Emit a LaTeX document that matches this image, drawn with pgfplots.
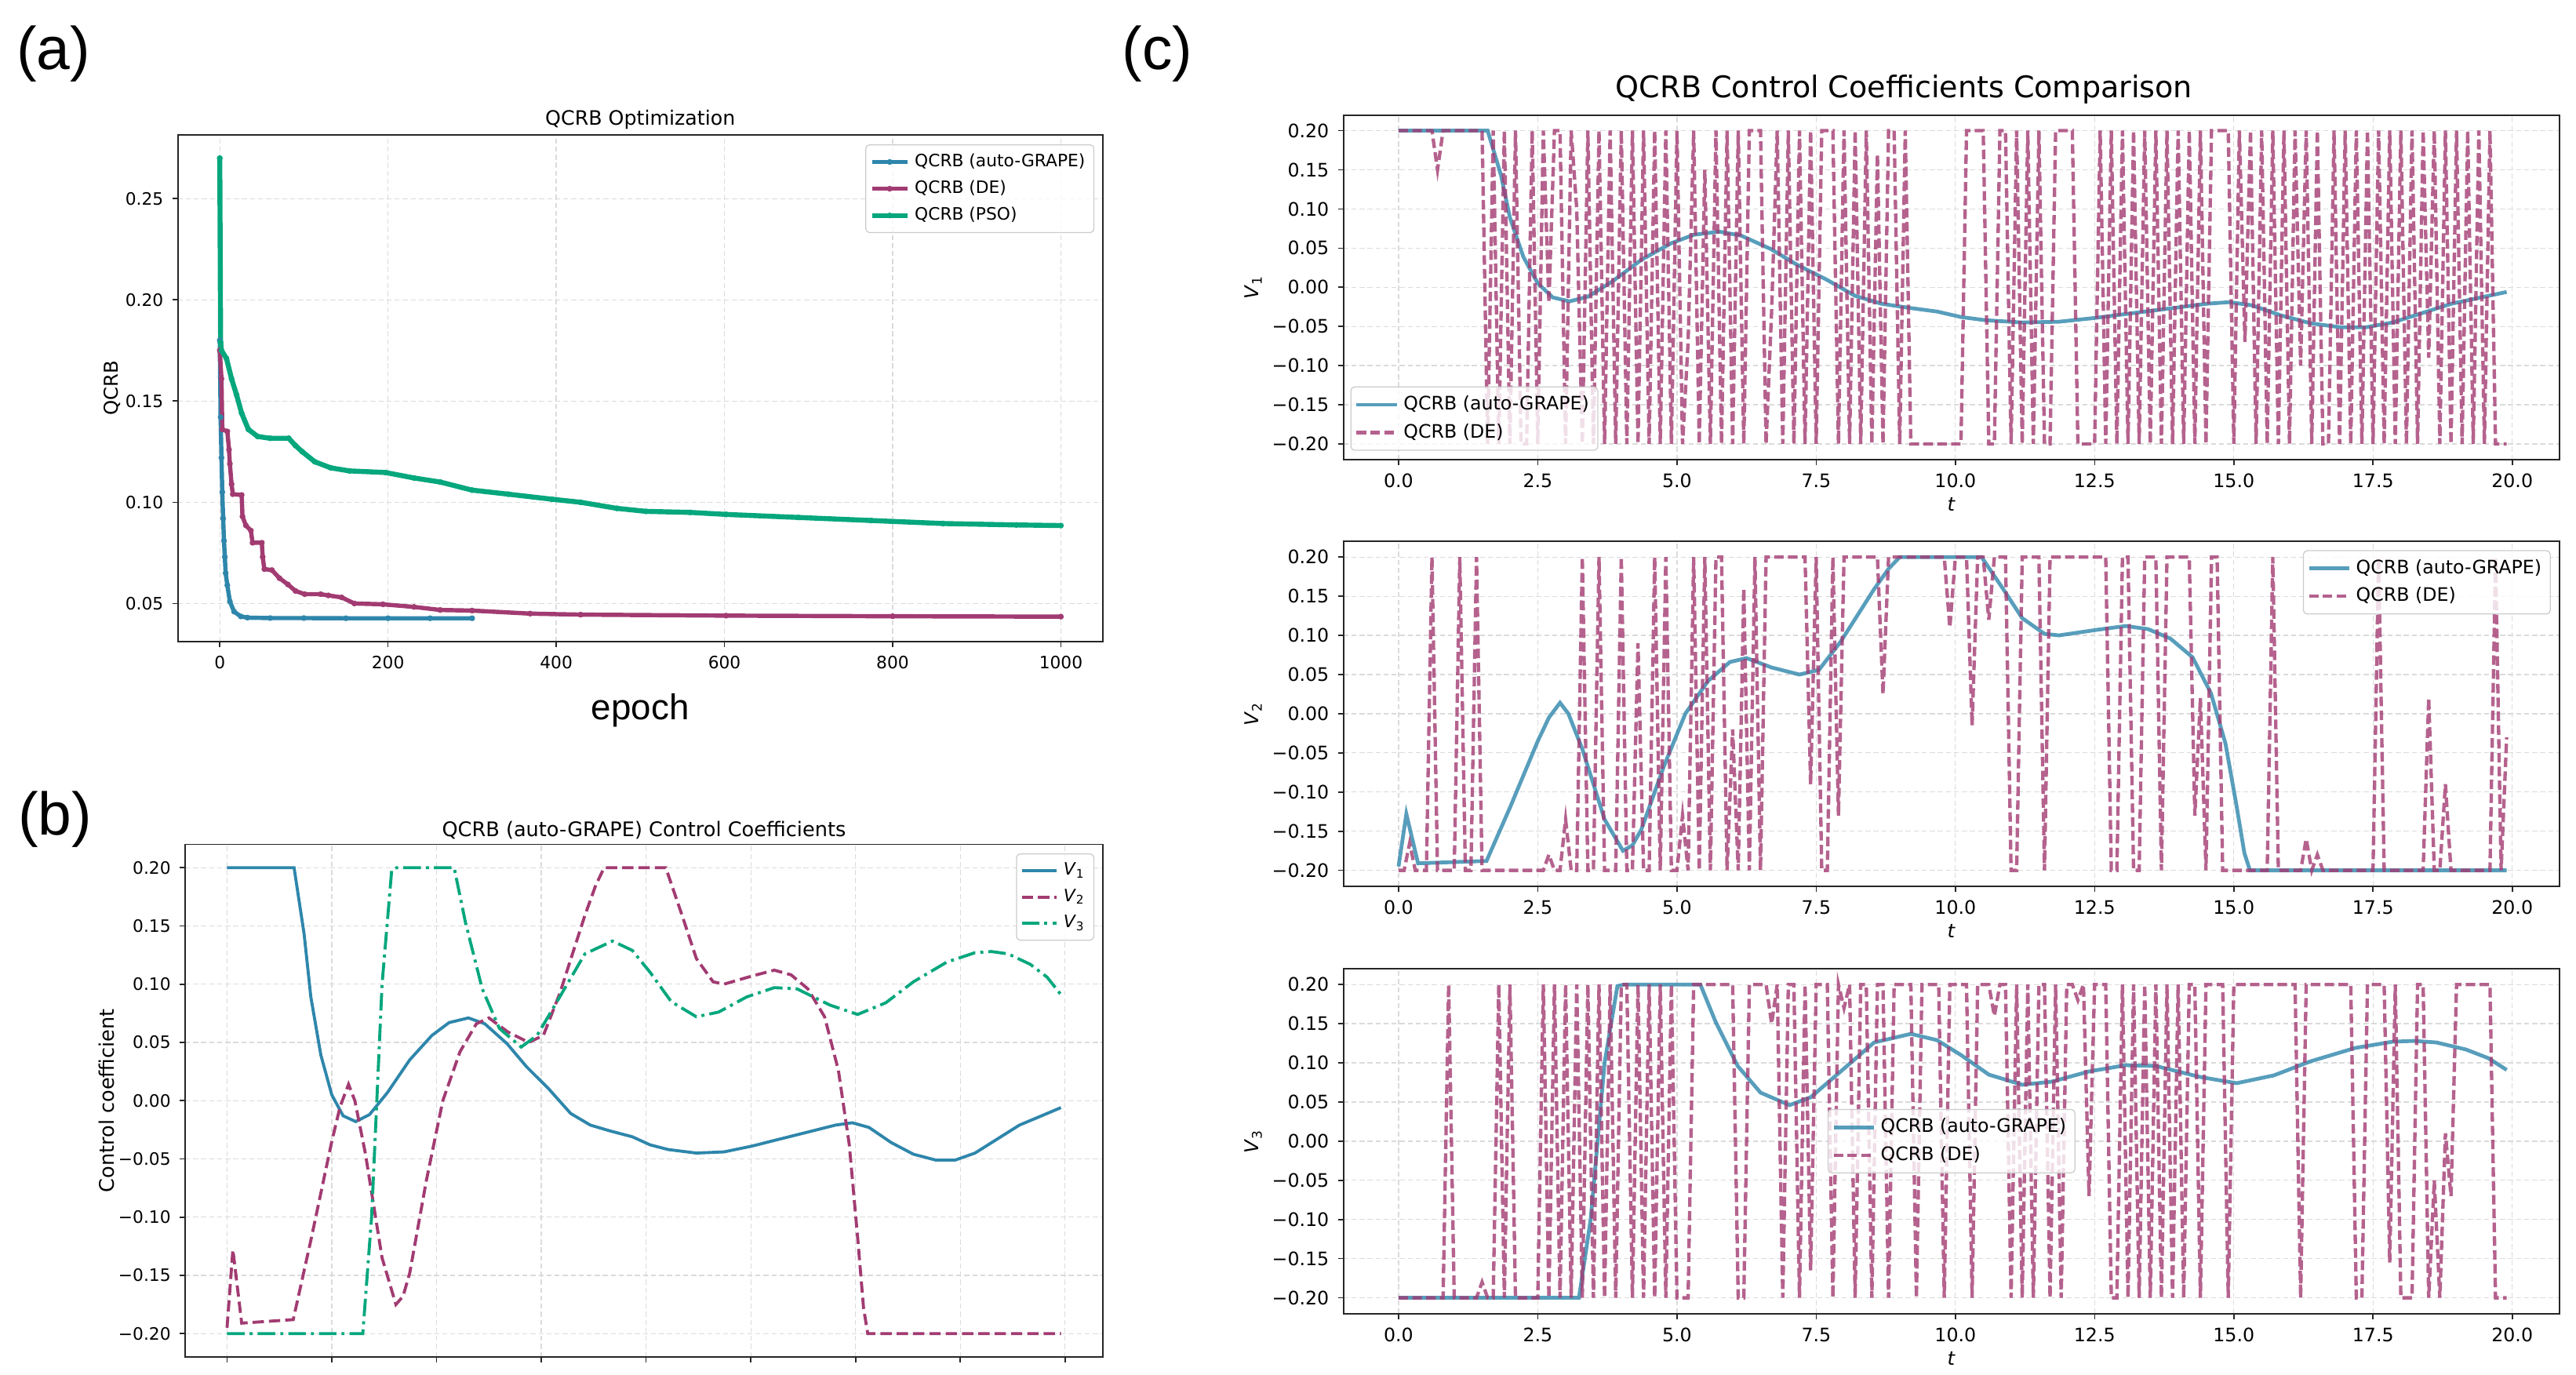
\documentclass[border=0pt]{standalone}
\usepackage{fontspec}
\setmainfont{DejaVu Sans}
\newfontfamily\arialfont{Liberation Sans}
\usepackage{pgfplots}
\pgfplotsset{compat=1.18}
\definecolor{cblue}{HTML}{2E86AB}
\definecolor{cpurple}{HTML}{A23B72}
\definecolor{cgreen}{HTML}{06A77D}
\pgfplotsset{
  mpl/.style={
    scale only axis,
    axis line style={black!85, line width=0.6pt},
    tick align=outside, tick pos=left,
    major tick length=2.2pt,
    tick style={black!85, line width=0.5pt},
    grid=major,
    major grid style={dash pattern=on 2pt off 1.2pt, black!14, line width=0.4pt},
    scaled ticks=false,
    legend cell align=left,
    legend style={draw=black!20, rounded corners=1.5pt, fill=white, fill opacity=0.8, text opacity=1, draw opacity=1, inner sep=1.5pt, row sep=0pt},
    legend image code/.code={\draw[mark repeat=2,mark phase=2,#1] plot coordinates {(0pt,0pt) (7pt,0pt) (14pt,0pt)};},
  },
  csub/.style={
    mpl, anchor=south west, width=484.5pt, height=137.3pt,
    xmin=-0.99, xmax=20.85, ymin=-0.22, ymax=0.22,
    xtick={0,2.5,5,7.5,10,12.5,15,17.5,20},
    xticklabels={0.0,2.5,5.0,7.5,10.0,12.5,15.0,17.5,20.0},
    ytick={-0.2,-0.15,-0.1,-0.05,0,0.05,0.1,0.15,0.2},
    yticklabels={−0.20,−0.15,−0.10,−0.05,0.00,0.05,0.10,0.15,0.20},
    tick label style={font=\fontsize{7.4}{9}\selectfont},
    xlabel={\textit{t}},
    xlabel style={font=\fontsize{7.6}{9}\selectfont, at={(axis description cs:0.5,-0.13)}, anchor=center},
    ylabel style={font=\fontsize{7.6}{9}\selectfont, at={(axis description cs:-0.074,0.5)}, anchor=center},
    legend style={font=\fontsize{7.4}{9}\selectfont},
    legend image code/.code={\draw[#1] (0pt,0pt) -- (16pt,0pt);},
  },
  gstyle/.style={cblue, opacity=0.8, line width=1.5pt},
  dstyle/.style={cpurple, opacity=0.8, line width=1.35pt, dash pattern=on 3.8pt off 1.7pt},
}
\begin{document}
\begin{tikzpicture}
\path[use as bounding box] (0pt,0pt) rectangle (1026.25pt,-547.8pt);
\node[font=\arialfont\fontsize{24}{28}\selectfont] at (21.3pt,-21.3pt) {(a)};
\node[font=\arialfont\fontsize{24}{28}\selectfont] at (21.9pt,-326.6pt) {(b)};
\node[font=\arialfont\fontsize{24}{28}\selectfont] at (461pt,-21.3pt) {(c)};
\node[font=\fontsize{11.9}{14}\selectfont] at (758.6pt,-35.5pt) {QCRB Control Coefficients Comparison};

% ---------------- (a) ----------------
\begin{axis}[mpl, at={(70.8pt,-255.6pt)}, anchor=south west, width=368.6pt, height=201.8pt,
  xmin=-50, xmax=1050, ymin=0.0312, ymax=0.2814,
  xtick={0,200,400,600,800,1000}, xticklabels={0,200,400,600,800,1000},
  ytick={0.05,0.1,0.15,0.2,0.25}, yticklabels={0.05,0.10,0.15,0.20,0.25},
  tick label style={font=\fontsize{6.8}{8}\selectfont},
  title={QCRB Optimization},
  title style={font=\fontsize{7.9}{9}\selectfont, at={(axis description cs:0.5,1)}, anchor=center, yshift=0pt},
  xlabel={\arialfont epoch},
  xlabel style={font=\fontsize{14.3}{16}\selectfont, at={(axis description cs:0.5,-0.136)}, anchor=center},
  ylabel={QCRB},
  ylabel style={font=\fontsize{7.6}{9}\selectfont, at={(axis description cs:-0.0705,0.5)}, anchor=center},
  legend style={font=\fontsize{6.8}{8}\selectfont, at={(1,1)}, anchor=north east, xshift=-3.4pt, yshift=-3.7pt},
]
\addplot[cblue, line width=1.7pt, mark=*, mark size=1.0pt, mark options={line width=0.3pt}] coordinates {
(0,0.180) (1,0.142) (2,0.122) (3,0.105) (4,0.092) (5,0.081) (6,0.073) (7,0.065) (9,0.059) (12,0.051) (17,0.046) (25,0.0436) (33,0.0430) (60,0.0428) (100,0.0428) (150,0.0427) (200,0.0427) (250,0.0427) (300,0.0427)};
\addlegendentry{QCRB (auto-GRAPE)}
\addplot[cpurple, line width=1.7pt, mark=*, mark size=1.0pt, mark options={line width=0.3pt}] coordinates {
(0,0.175) (2,0.161) (3,0.136) (9,0.135) (11,0.126) (12,0.119) (14,0.109) (15.5,0.104) (26,0.1036) (27,0.093) (31,0.0886) (37,0.086) (39,0.080) (50,0.080) (51,0.073) (53,0.067) (62,0.0665) (71,0.0625) (81,0.0594) (90,0.0562) (101,0.0546) (120,0.0546) (129,0.054) (145,0.053) (160,0.050) (194,0.0496) (231,0.0483) (262,0.0468) (300,0.0465) (369,0.0450) (429,0.0445) (602,0.0440) (800,0.0437) (1000,0.0435)};
\addlegendentry{QCRB (DE)}
\addplot[cgreen, line width=2pt, mark=*, mark size=1.0pt, mark options={line width=0.3pt}] coordinates {
(0,0.270) (1,0.179) (2,0.175) (8,0.171) (14,0.161) (20,0.153) (26,0.144) (34,0.136) (45,0.1325) (60,0.1316) (82,0.1316) (90,0.128) (98,0.125) (113,0.120) (132,0.117) (154,0.1155) (197,0.1147) (231,0.112) (262,0.110) (300,0.106) (343,0.104) (395,0.1015) (429,0.100) (472,0.097) (507,0.0955) (559,0.095) (602,0.094) (688,0.0925) (774,0.091) (860,0.0895) (947,0.0888) (1000,0.0885)};
\addlegendentry{QCRB (PSO)}
\end{axis}

% ---------------- (b) ----------------
\begin{axis}[mpl, at={(73.75pt,-540.6pt)}, anchor=south west, width=365.6pt, height=204.2pt,
  xmin=-1, xmax=20.9, ymin=-0.22, ymax=0.22,
  xtick={0,2.5,5,7.5,10,12.5,15,17.5,20}, xticklabels={,,,,,,,,},
  ytick={-0.2,-0.15,-0.1,-0.05,0,0.05,0.1,0.15,0.2},
  yticklabels={−0.20,−0.15,−0.10,−0.05,0.00,0.05,0.10,0.15,0.20},
  tick label style={font=\fontsize{6.8}{8}\selectfont},
  title={QCRB (auto-GRAPE) Control Coefficients},
  title style={font=\fontsize{8}{9}\selectfont, at={(axis description cs:0.5,1)}, anchor=center, yshift=-0.4pt},
  ylabel={Control coefficient},
  ylabel style={font=\fontsize{8}{9}\selectfont, at={(axis description cs:-0.0855,0.5)}, anchor=center},
  legend style={font=\fontsize{6.8}{8}\selectfont, at={(1,1)}, anchor=north east, xshift=-3.4pt, yshift=-3.6pt},
]
\addplot[cblue, line width=1.2pt] coordinates {
(0,0.2) (1.6,0.2) (1.84,0.143) (2.0,0.089) (2.24,0.039) (2.5,0.005) (2.77,-0.013) (3.07,-0.018) (3.4,-0.012) (3.83,0.007) (4.36,0.035) (4.89,0.056) (5.3,0.067) (5.76,0.071) (6.15,0.066) (6.68,0.049) (7.15,0.029) (7.68,0.010) (8.2,-0.011) (8.67,-0.021) (9.14,-0.026) (9.67,-0.031) (10.1,-0.038) (10.53,-0.042) (11.2,-0.045) (11.86,-0.044) (12.53,-0.039) (13.19,-0.033) (13.86,-0.027) (14.52,-0.021) (14.92,-0.019) (15.32,-0.023) (15.85,-0.036) (16.38,-0.046) (16.91,-0.051) (17.38,-0.051) (17.85,-0.045) (18.38,-0.033) (18.91,-0.021) (19.44,-0.013) (19.9,-0.006)};
\addlegendentry{\textit{V}\textsubscript{1}}
\addplot[cpurple, line width=1.2pt, dash pattern=on 4.5pt off 2pt] coordinates {
(0,-0.195) (0.14,-0.128) (0.35,-0.191) (1.58,-0.188) (2.0,-0.12) (2.5,-0.035) (2.7,-0.005) (2.9,0.014) (3.05,0.0) (3.3,-0.045) (3.7,-0.135) (4.03,-0.175) (4.2,-0.168) (4.36,-0.148) (4.76,-0.068) (5.15,0.0) (5.56,0.042) (5.95,0.066) (6.25,0.071) (6.7,0.059) (7.2,0.05) (7.55,0.056) (7.94,0.092) (8.54,0.159) (8.8,0.185) (9.0,0.2) (10.47,0.2) (10.86,0.159) (11.2,0.122) (11.6,0.102) (11.86,0.1) (12.53,0.107) (13.06,0.112) (13.46,0.108) (13.86,0.096) (14.26,0.072) (14.59,0.026) (14.85,-0.038) (15.05,-0.118) (15.19,-0.178) (15.29,-0.2) (19.9,-0.2)};
\addlegendentry{\textit{V}\textsubscript{2}}
\addplot[cgreen, line width=1.2pt, dash pattern=on 7pt off 2pt on 1.2pt off 2pt] coordinates {
(0,-0.2) (3.24,-0.2) (3.45,-0.1) (3.7,0.1) (3.93,0.198) (4.05,0.2) (5.42,0.2) (5.69,0.153) (6.09,0.096) (6.5,0.062) (7.02,0.046) (7.4,0.056) (7.94,0.089) (8.54,0.126) (9.2,0.137) (9.67,0.129) (10.1,0.11) (10.6,0.085) (11.2,0.072) (11.73,0.076) (12.4,0.089) (13.06,0.097) (13.6,0.096) (14.39,0.082) (15.05,0.074) (15.72,0.084) (16.38,0.102) (17.18,0.119) (17.85,0.127) (18.24,0.128) (18.64,0.126) (19.17,0.117) (19.57,0.106) (19.9,0.091)};
\addlegendentry{\textit{V}\textsubscript{3}}
\end{axis}

% ---------------- (c) top ----------------
\begin{axis}[csub, at={(535.2pt,-183.1pt)}, ylabel={\textit{V}\textsubscript{1}},
  legend style={at={(0,0)}, anchor=south west, xshift=2.8pt, yshift=3.5pt}]
\addplot[gstyle] coordinates {
(0,0.2) (1.6,0.2) (1.84,0.143) (2.0,0.089) (2.24,0.039) (2.5,0.005) (2.77,-0.013) (3.07,-0.018) (3.4,-0.012) (3.83,0.007) (4.36,0.035) (4.89,0.056) (5.3,0.067) (5.76,0.071) (6.15,0.066) (6.68,0.049) (7.15,0.029) (7.68,0.010) (8.2,-0.011) (8.67,-0.021) (9.14,-0.026) (9.67,-0.031) (10.1,-0.038) (10.53,-0.042) (11.2,-0.045) (11.86,-0.044) (12.53,-0.039) (13.19,-0.033) (13.86,-0.027) (14.52,-0.021) (14.92,-0.019) (15.32,-0.023) (15.85,-0.036) (16.38,-0.046) (16.91,-0.051) (17.38,-0.051) (17.85,-0.045) (18.38,-0.033) (18.91,-0.021) (19.44,-0.013) (19.9,-0.006)};
\addlegendentry{QCRB (auto-GRAPE)}
\addplot[dstyle] coordinates {
(0.0,0.2)(0.1,0.2)(0.2,0.2)(0.3,0.2)(0.4,0.2)(0.5,0.2)(0.6,0.2)(0.7,0.15)(0.8,0.2)(0.9,0.2)
(1.0,0.2)(1.1,0.2)(1.2,0.2)(1.3,0.2)(1.4,0.2)(1.5,0.2)(1.6,-0.2)(1.7,0.2)(1.8,-0.2)(1.9,0.2)
(2.0,-0.2)(2.1,0.2)(2.2,-0.2)(2.3,-0.2)(2.4,0.2)(2.5,-0.2)(2.6,0.2)(2.7,-0.02)(2.8,0.2)(2.9,0.2)
(3.0,-0.2)(3.1,0.2)(3.2,0.1)(3.3,-0.2)(3.4,0.2)(3.5,-0.2)(3.6,0.2)(3.7,-0.2)(3.8,0.2)(3.9,-0.2)
(4.0,0.2)(4.1,-0.2)(4.2,0.2)(4.3,-0.2)(4.4,0.2)(4.5,-0.2)(4.6,0.2)(4.7,-0.2)(4.8,0.2)(4.9,-0.2)
(5.0,0.2)(5.1,-0.2)(5.2,-0.07)(5.3,0.2)(5.4,-0.2)(5.5,0.15)(5.6,-0.2)(5.7,0.2)(5.8,-0.2)(5.9,0.2)
(6.0,-0.2)(6.1,0.2)(6.2,-0.2)(6.3,0.2)(6.4,0.2)(6.5,0.2)(6.6,-0.2)(6.7,-0.03)(6.8,0.2)(6.9,-0.2)
(7.0,0.2)(7.1,-0.2)(7.2,0.2)(7.3,-0.2)(7.4,0.2)(7.5,-0.2)(7.6,0.2)(7.7,0.2)(7.8,0.2)(7.9,-0.2)
(8.0,0.2)(8.1,-0.2)(8.2,0.2)(8.3,-0.2)(8.4,0.2)(8.5,-0.2)(8.6,0.17)(8.7,-0.2)(8.8,0.2)(8.9,0.2)
(9.0,-0.2)(9.1,0.2)(9.2,-0.2)(9.3,-0.2)(9.4,-0.2)(9.5,-0.2)(9.6,-0.2)(9.7,-0.2)(9.8,-0.2)(9.9,-0.2)
(10.0,-0.2)(10.1,-0.2)(10.2,0.2)(10.3,0.2)(10.4,0.2)(10.5,0.2)(10.6,-0.2)(10.7,-0.2)(10.8,0.2)(10.9,0.2)
(11.0,-0.2)(11.1,0.2)(11.2,-0.2)(11.3,0.2)(11.4,-0.2)(11.5,0.2)(11.6,-0.2)(11.7,-0.2)(11.8,0.2)(11.9,0.2)
(12.0,0.2)(12.1,0.2)(12.2,-0.2)(12.3,-0.2)(12.4,-0.2)(12.5,-0.2)(12.6,0.2)(12.7,-0.2)(12.8,0.2)(12.9,-0.2)
(13.0,0.2)(13.1,-0.2)(13.2,0.2)(13.3,-0.2)(13.4,0.2)(13.5,-0.2)(13.6,0.2)(13.7,-0.2)(13.8,0.2)(13.9,-0.2)
(14.0,0.2)(14.1,-0.2)(14.2,0.2)(14.3,-0.2)(14.4,0.2)(14.5,-0.2)(14.6,0.2)(14.7,0.2)(14.8,0.2)(14.9,0.2)
(15.0,-0.2)(15.1,0.2)(15.2,-0.07)(15.3,0.2)(15.4,-0.2)(15.5,0.2)(15.6,-0.2)(15.7,0.2)(15.8,-0.2)(15.9,0.2)
(16.0,-0.2)(16.1,0.2)(16.2,-0.1)(16.3,0.2)(16.4,-0.2)(16.5,0.2)(16.6,-0.2)(16.7,-0.2)(16.8,0.2)(16.9,-0.2)
(17.0,0.2)(17.1,-0.2)(17.2,0.2)(17.3,-0.2)(17.4,0.2)(17.5,-0.2)(17.6,0.2)(17.7,-0.2)(17.8,0.2)(17.9,-0.2)
(18.0,0.2)(18.1,-0.2)(18.2,0.2)(18.3,-0.2)(18.4,0.2)(18.5,-0.09)(18.6,0.2)(18.7,-0.2)(18.8,0.2)(18.9,-0.2)
(19.0,0.2)(19.1,-0.2)(19.2,0.2)(19.3,-0.2)(19.4,0.2)(19.5,-0.2)(19.6,0.2)(19.7,-0.2)(19.8,-0.2)(19.9,-0.2)};
\addlegendentry{QCRB (DE)}
\end{axis}

% ---------------- (c) middle ----------------
\begin{axis}[csub, at={(535.2pt,-353.0pt)}, ylabel={\textit{V}\textsubscript{2}},
  legend style={at={(1,1)}, anchor=north east, xshift=-3.5pt, yshift=-3.5pt}]
\addplot[gstyle] coordinates {
(0,-0.195) (0.14,-0.128) (0.35,-0.191) (1.58,-0.188) (2.0,-0.12) (2.5,-0.035) (2.7,-0.005) (2.9,0.014) (3.05,0.0) (3.3,-0.045) (3.7,-0.135) (4.03,-0.175) (4.2,-0.168) (4.36,-0.148) (4.76,-0.068) (5.15,0.0) (5.56,0.042) (5.95,0.066) (6.25,0.071) (6.7,0.059) (7.2,0.05) (7.55,0.056) (7.94,0.092) (8.54,0.159) (8.8,0.185) (9.0,0.2) (10.47,0.2) (10.86,0.159) (11.2,0.122) (11.6,0.102) (11.86,0.1) (12.53,0.107) (13.06,0.112) (13.46,0.108) (13.86,0.096) (14.26,0.072) (14.59,0.026) (14.85,-0.038) (15.05,-0.118) (15.19,-0.178) (15.29,-0.2) (19.9,-0.2)};
\addlegendentry{QCRB (auto-GRAPE)}
\addplot[dstyle] coordinates {
(0.0,-0.2)(0.1,-0.2)(0.2,-0.165)(0.3,-0.2)(0.4,-0.2)(0.5,-0.2)(0.6,0.2)(0.7,-0.2)(0.8,-0.2)(0.9,-0.2)
(1.0,-0.2)(1.1,0.2)(1.2,-0.2)(1.3,-0.2)(1.4,0.2)(1.5,-0.2)(1.6,-0.2)(1.7,-0.2)(1.8,-0.2)(1.9,-0.2)
(2.0,-0.2)(2.1,-0.2)(2.2,-0.2)(2.3,-0.2)(2.4,-0.2)(2.5,-0.2)(2.6,-0.2)(2.7,-0.18)(2.8,-0.2)(2.9,-0.2)
(3.0,-0.135)(3.1,-0.2)(3.2,-0.2)(3.3,0.2)(3.4,-0.2)(3.5,-0.2)(3.6,0.2)(3.7,-0.2)(3.8,-0.2)(3.9,-0.2)
(4.0,0.2)(4.1,-0.2)(4.2,-0.2)(4.3,0.09)(4.4,-0.2)(4.5,-0.2)(4.6,0.2)(4.7,-0.2)(4.8,0.2)(4.9,-0.2)
(5.0,-0.2)(5.1,-0.13)(5.2,-0.2)(5.3,0.2)(5.4,-0.2)(5.5,0.2)(5.6,-0.2)(5.7,0.2)(5.8,0.2)(5.9,-0.2)
(6.0,-0.02)(6.1,-0.2)(6.2,0.16)(6.3,-0.2)(6.4,0.2)(6.5,-0.2)(6.6,0.2)(6.7,0.2)(6.8,0.2)(6.9,0.2)
(7.0,0.2)(7.1,0.2)(7.2,0.2)(7.3,0.2)(7.4,-0.09)(7.5,0.2)(7.6,-0.2)(7.7,-0.2)(7.8,0.2)(7.9,-0.13)
(8.0,0.2)(8.1,0.2)(8.2,0.2)(8.3,0.2)(8.4,0.2)(8.5,0.2)(8.6,0.2)(8.7,0.025)(8.8,0.2)(8.9,0.2)
(9.0,0.2)(9.1,0.2)(9.2,0.2)(9.3,0.2)(9.4,0.2)(9.5,0.2)(9.6,0.2)(9.7,0.2)(9.8,0.2)(9.9,0.11)
(10.0,0.2)(10.1,0.2)(10.2,0.2)(10.3,-0.015)(10.4,0.2)(10.5,0.2)(10.6,0.12)(10.7,0.2)(10.8,0.2)(10.9,0.2)
(11.0,-0.2)(11.1,-0.2)(11.2,0.2)(11.3,0.2)(11.4,0.2)(11.5,0.2)(11.6,-0.2)(11.7,0.2)(11.8,0.2)(11.9,0.2)
(12.0,0.2)(12.1,0.2)(12.2,0.2)(12.3,0.2)(12.4,0.2)(12.5,0.2)(12.6,0.2)(12.7,0.2)(12.8,-0.2)(12.9,-0.2)
(13.0,0.2)(13.1,0.2)(13.2,-0.2)(13.3,-0.2)(13.4,0.2)(13.5,0.2)(13.6,0.2)(13.7,-0.2)(13.8,0.2)(13.9,0.2)
(14.0,0.2)(14.1,0.2)(14.2,0.2)(14.3,-0.13)(14.4,0.02)(14.5,-0.2)(14.6,0.2)(14.7,0.2)(14.8,-0.2)(14.9,-0.2)
(15.0,-0.2)(15.1,-0.2)(15.2,-0.2)(15.3,-0.2)(15.4,-0.2)(15.5,-0.2)(15.6,-0.2)(15.7,0.2)(15.8,-0.2)(15.9,-0.2)
(16.0,-0.2)(16.1,-0.2)(16.2,-0.2)(16.3,-0.16)(16.4,-0.2)(16.5,-0.18)(16.6,-0.2)(16.7,-0.2)(16.8,-0.2)(16.9,-0.2)
(17.0,-0.2)(17.1,-0.2)(17.2,-0.2)(17.3,-0.2)(17.4,-0.2)(17.5,-0.2)(17.6,0.2)(17.7,-0.2)(17.8,-0.2)(17.9,-0.2)
(18.0,-0.2)(18.1,-0.2)(18.2,-0.2)(18.3,-0.2)(18.4,-0.2)(18.5,0.02)(18.6,-0.2)(18.7,-0.2)(18.8,-0.09)(18.9,-0.2)
(19.0,-0.2)(19.1,-0.2)(19.2,-0.2)(19.3,-0.2)(19.4,-0.2)(19.5,-0.2)(19.6,-0.2)(19.7,0.2)(19.8,-0.2)(19.9,-0.03)};
\addlegendentry{QCRB (DE)}
\end{axis}

% ---------------- (c) bottom ----------------
\begin{axis}[csub, at={(535.2pt,-523.3pt)}, ylabel={\textit{V}\textsubscript{3}},
  legend style={at={(0.5,0.5)}, anchor=center}]
\addplot[gstyle] coordinates {
(0,-0.2) (3.24,-0.2) (3.45,-0.1) (3.7,0.1) (3.93,0.198) (4.05,0.2) (5.42,0.2) (5.69,0.153) (6.09,0.096) (6.5,0.062) (7.02,0.046) (7.4,0.056) (7.94,0.089) (8.54,0.126) (9.2,0.137) (9.67,0.129) (10.1,0.11) (10.6,0.085) (11.2,0.072) (11.73,0.076) (12.4,0.089) (13.06,0.097) (13.6,0.096) (14.39,0.082) (15.05,0.074) (15.72,0.084) (16.38,0.102) (17.18,0.119) (17.85,0.127) (18.24,0.128) (18.64,0.126) (19.17,0.117) (19.57,0.106) (19.9,0.091)};
\addlegendentry{QCRB (auto-GRAPE)}
\addplot[dstyle] coordinates {
(0.0,-0.2)(0.1,-0.2)(0.2,-0.2)(0.3,-0.2)(0.4,-0.2)(0.5,-0.2)(0.6,-0.2)(0.7,-0.2)(0.8,-0.2)(0.9,0.2)
(1.0,-0.2)(1.1,-0.2)(1.2,-0.2)(1.3,-0.2)(1.4,-0.2)(1.5,-0.18)(1.6,-0.2)(1.7,-0.2)(1.8,0.2)(1.9,-0.2)
(2.0,0.2)(2.1,-0.2)(2.2,-0.2)(2.3,-0.2)(2.4,-0.2)(2.5,-0.2)(2.6,0.2)(2.7,-0.2)(2.8,0.2)(2.9,-0.2)
(3.0,0.2)(3.1,-0.2)(3.2,0.2)(3.3,-0.2)(3.4,0.2)(3.5,-0.2)(3.6,0.2)(3.7,-0.2)(3.8,0.2)(3.9,-0.2)
(4.0,0.2)(4.1,0.2)(4.2,-0.2)(4.3,0.2)(4.4,-0.2)(4.5,0.2)(4.6,-0.2)(4.7,0.2)(4.8,-0.2)(4.9,0.2)
(5.0,-0.2)(5.1,-0.2)(5.2,-0.2)(5.3,0.2)(5.4,0.2)(5.5,0.2)(5.6,0.2)(5.7,0.2)(5.8,0.2)(5.9,0.2)
(6.0,0.2)(6.1,-0.2)(6.2,-0.2)(6.3,0.2)(6.4,0.2)(6.5,0.2)(6.6,0.2)(6.7,0.15)(6.8,0.2)(6.9,-0.2)
(7.0,0.2)(7.1,0.2)(7.2,-0.2)(7.3,0.2)(7.4,-0.165)(7.5,0.2)(7.6,0.2)(7.7,0.2)(7.8,-0.2)(7.9,0.2)
(8.0,0.17)(8.1,0.2)(8.2,-0.2)(8.3,0.2)(8.4,0.2)(8.5,-0.2)(8.6,0.2)(8.7,0.2)(8.8,-0.2)(8.9,0.2)
(9.0,0.2)(9.1,0.2)(9.2,0.2)(9.3,-0.2)(9.4,0.2)(9.5,0.2)(9.6,0.2)(9.7,0.2)(9.8,-0.2)(9.9,0.2)
(10.0,0.2)(10.1,0.2)(10.2,0.2)(10.3,-0.2)(10.4,0.2)(10.5,0.2)(10.6,0.2)(10.7,0.16)(10.8,0.2)(10.9,0.2)
(11.0,-0.2)(11.1,0.2)(11.2,-0.2)(11.3,0.2)(11.4,-0.2)(11.5,0.2)(11.6,0.2)(11.7,-0.2)(11.8,0.2)(11.9,-0.2)
(12.0,0.2)(12.1,0.2)(12.2,0.18)(12.3,0.2)(12.4,-0.07)(12.5,0.2)(12.6,0.2)(12.7,0.2)(12.8,-0.2)(12.9,-0.2)
(13.0,0.2)(13.1,-0.2)(13.2,0.2)(13.3,-0.2)(13.4,0.2)(13.5,-0.2)(13.6,0.2)(13.7,-0.2)(13.8,0.2)(13.9,-0.2)
(14.0,0.2)(14.1,-0.2)(14.2,0.2)(14.3,0.2)(14.4,-0.2)(14.5,0.2)(14.6,0.2)(14.7,0.2)(14.8,0.2)(14.9,-0.2)
(15.0,0.2)(15.1,0.2)(15.2,0.2)(15.3,0.2)(15.4,0.2)(15.5,0.2)(15.6,0.2)(15.7,0.2)(15.8,0.2)(15.9,0.2)
(16.0,0.2)(16.1,0.2)(16.2,-0.2)(16.3,0.2)(16.4,0.2)(16.5,0.2)(16.6,0.2)(16.7,0.2)(16.8,0.2)(16.9,0.2)
(17.0,0.2)(17.1,0.2)(17.2,-0.2)(17.3,-0.2)(17.4,0.2)(17.5,0.2)(17.6,0.2)(17.7,0.2)(17.8,-0.155)(17.9,0.2)
(18.0,-0.2)(18.1,-0.2)(18.2,-0.2)(18.3,0.2)(18.4,0.2)(18.5,-0.2)(18.6,-0.05)(18.7,-0.2)(18.8,0.01)(18.9,-0.07)
(19.0,0.2)(19.1,0.2)(19.2,0.2)(19.3,0.2)(19.4,0.2)(19.5,0.2)(19.6,0.2)(19.7,-0.2)(19.8,-0.2)(19.9,-0.2)};
\addlegendentry{QCRB (DE)}
\end{axis}
\end{tikzpicture}
\end{document}
